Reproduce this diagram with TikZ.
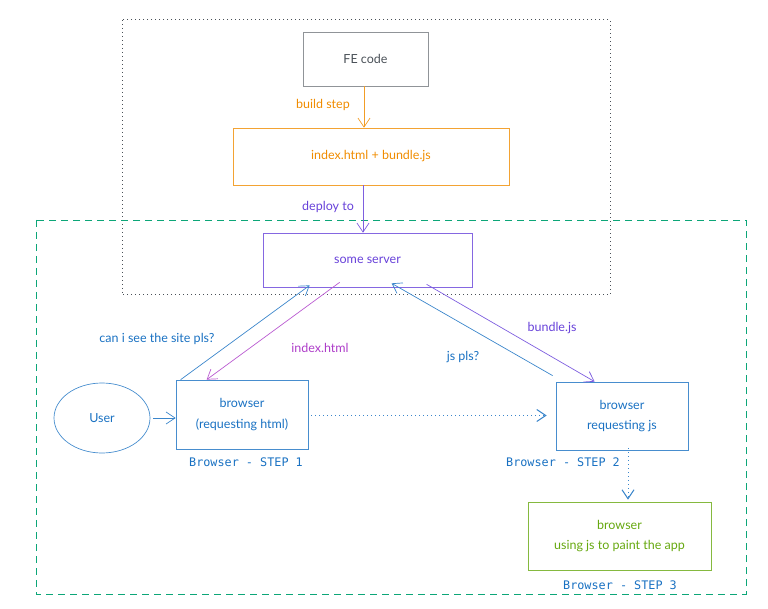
\documentclass[tikz,border=0pt]{standalone}
\usepackage{fontspec}
\setmainfont{Lato}
\setmonofont{DejaVu Sans Mono}
\usetikzlibrary{arrows.meta,shapes.geometric,calc}
\definecolor{cblue}{HTML}{1971C2}
\definecolor{cviolet}{HTML}{6741D9}
\definecolor{cgrape}{HTML}{AE3EC9}
\definecolor{corange}{HTML}{F08C00}
\definecolor{cgreen}{HTML}{66A80F}
\definecolor{cgray}{HTML}{909498}
\definecolor{cgraytxt}{HTML}{495057}
\definecolor{cteal}{HTML}{0CA678}
\tikzset{
  box/.style={draw, rectangle, line width=0.7pt, inner sep=0pt, align=center, font=\fontsize{12.5}{20.5}\selectfont},
  lbl/.style={inner sep=1pt, font=\fontsize{12.5}{14}\selectfont},
  steplbl/.style={inner sep=1pt, text=cblue, font=\ttfamily\fontsize{11.8}{13}\selectfont},
  conn/.style={line width=0.7pt, -{Straight Barb[length=9pt,width=12pt]}},
  dotconn/.style={line width=1pt, dash pattern=on 1pt off 3pt, -{Straight Barb[length=9pt,width=12pt]}},
}
\begin{document}
\begin{tikzpicture}[x=1pt,y=-1pt]
\useasboundingbox (0,0) rectangle (768,609);
% containers
\draw[cgraytxt, line width=1pt, dash pattern=on 1pt off 3pt] (122,20) rectangle (610,295);
\draw[cteal, line width=0.9pt, dash pattern=on 7pt off 5pt] (36,220) rectangle (746,594);
% nodes
\node[box, draw=cgray, text=cgraytxt, minimum width=125pt, minimum height=54pt] (fe) at (365.5,59) {FE code};
\node[box, draw=corange!80, text=corange, minimum width=276pt, minimum height=57pt] (build) at (371,156.5) {index.html + bundle.js};
\node[box, draw=cviolet!80, text=cviolet, minimum width=209pt, minimum height=54pt] (server) at (367.5,260) {some server};
\node[box, draw=cblue!80, text=cblue, minimum width=132pt, minimum height=69pt] (b1) at (242,414.5) {browser\\(requesting html)};
\node[box, draw=cblue!80, text=cblue, minimum width=132pt, minimum height=68pt] (b2) at (622,416) {browser\\requesting js};
\node[box, draw=cgreen!80, text=cgreen, minimum width=183pt, minimum height=68pt] (b3) at (619.5,536) {browser\\using js to paint the app};
\node[ellipse, draw=cblue!80, line width=0.7pt, text=cblue, minimum width=96pt, minimum height=70pt, inner sep=0pt, font=\fontsize{12.5}{14}\selectfont] (user) at (102,418) {User};
% labels
\node[lbl, text=corange] (lbuild) at (323,105) {build step};
\node[lbl, text=cviolet] (ldeploy) at (328,207) {deploy to};
\node[lbl, text=cblue] (lcan) at (157,339) {can i see the site pls?};
\node[lbl, text=cgrape] (lindex) at (320,348) {index.html};
\node[lbl, text=cblue] (ljs) at (463,357) {js pls?};
\node[lbl, text=cviolet] (lbundle) at (552,328) {bundle.js};
\node[steplbl] (s1) at (246,462) {Browser - STEP 1};
\node[steplbl] (s2) at (563,462) {Browser - STEP 2};
\node[steplbl] (s3) at (620,585) {Browser - STEP 3};
% connectors
\draw[conn, corange!85] ([xshift=-1.5pt]fe.south) -- ([xshift=-1.5pt]fe.south |- build.north);
\draw[conn, cviolet!85] ([xshift=-8pt]build.south) -- ([xshift=-8pt]build.south |- server.north);
\draw[conn, cblue!85] ([xshift=5pt]b1.north west) -- ([xshift=47pt,yshift=2pt]server.south west);
\draw[conn, cgrape!85] ([xshift=77pt,yshift=5pt]server.south west) -- ([xshift=31pt]b1.north west);
\draw[conn, cblue!85] ([yshift=6pt,xshift=-3pt]b2.north west) -- ([xshift=129pt,yshift=4pt]server.south west);
\draw[conn, cviolet!85] ([xshift=164pt,yshift=3pt]server.south west) -- ([xshift=39pt]b2.north west);
\draw[dotconn, cblue!85] ([xshift=3pt,yshift=-1pt]b1.east) -- ([xshift=-9pt,yshift=-1pt]b2.west |- b1.east);
\draw[dotconn, cblue!85] ([xshift=6pt,yshift=2pt]b2.south) -- ([xshift=6pt,yshift=2pt]b2.south |- b3.north);
\draw[conn, cblue!85, shorten <=3pt] (user.east) -- (b1.west |- user.east);
\end{tikzpicture}
\end{document}
